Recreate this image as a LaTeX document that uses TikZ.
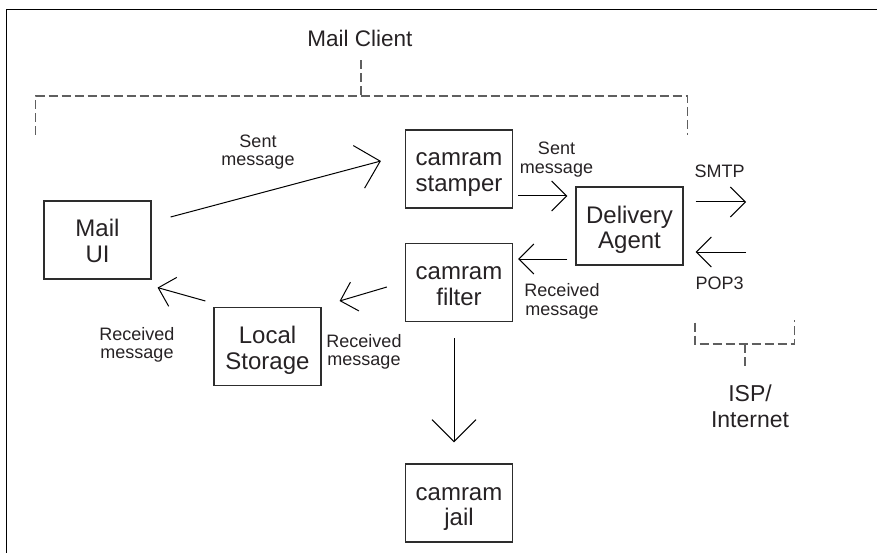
\documentclass[tikz,border=0pt]{standalone}
\usepackage{fontspec}
\setmainfont{Liberation Sans}
\usetikzlibrary{arrows.meta}
\definecolor{ink}{RGB}{38,34,36}
\definecolor{boxline}{RGB}{45,45,45}
\definecolor{dashgray}{RGB}{95,95,95}
\newcommand{\twolines}[2]{\makebox[0pt]{\raisebox{3pt}[0pt][0pt]{#1}}\makebox[0pt]{\raisebox{-22.5pt}[0pt][0pt]{#2}}}
\begin{document}
\begin{tikzpicture}[x=1pt,y=-1pt,
  comp/.style={draw=boxline, line width=1.2pt, minimum width=107pt, minimum height=78pt, inner sep=0pt, font=\fontsize{24}{25.5}\selectfont, text=ink},
  lbl/.style={align=center, inner sep=0pt, font=\fontsize{18}{18.5}\selectfont, text=ink},
  big/.style={align=center, inner sep=0pt, font=\fontsize{23}{26}\selectfont, text=ink},
  flow/.style={draw=black, line width=1pt, -{Straight Barb[length=15pt,width=30pt]}},
  bigflow/.style={draw=black, line width=1pt, -{Straight Barb[length=22pt,width=44pt]}},
  bracket/.style={draw=dashgray, line width=1.2pt, dash pattern=on 9pt off 4pt},
]
\useasboundingbox (0,0) rectangle (877,553);
\draw[line width=1.8pt] (6.5,553) -- (6.5,9.5) -- (877,9.5);

% components
\node[comp] (ui) at (97.5,240) {\twolines{Mail}{UI}};
\node[comp] (stamp) at (459,169) {\twolines{camram}{stamper}};
\node[comp] (filt) at (459,282.5) {\twolines{camram}{filter}};
\node[comp] (da) at (629.5,226) {\twolines{Delivery}{Agent}};
\node[comp] (store) at (267.5,346.5) {\twolines{Local}{Storage}};
\node[comp] (jail) at (459,503) {\twolines{camram}{jail}};

% group labels
\node[big, font=\fontsize{22.5}{26}\selectfont] (mc) at (360,38.3) {Mail Client};
\node[big] (isp) at (750,406) {ISP/\\Internet};

% connector labels
\node[lbl] (l1) at (258,152) {Sent\\message};
\node[lbl] (l2) at (556.5,159.7) {Sent\\message};
\node[lbl] (l3) at (562,301.5) {Received\\message};
\node[lbl] (l4) at (364,352) {Received\\message};
\node[lbl] (l5) at (137,345) {Received\\message};
\node[lbl] (smtp) at (719.5,171) {SMTP};
\node[lbl] (pop) at (719.7,283.7) {POP3};

% connectors
\draw[bigflow] ([shift={(19,-23)}]ui.east) -- ([shift={(-24,-8)}]stamp.west);
\draw[flow] ([shift={(5,27)}]stamp.east) -- ([shift={(-8,-30)}]da.west);
\draw[flow] ([shift={(-8,33)}]da.west) -- ([shift={(5,-23.5)}]filt.east);
\draw[flow] ([shift={(-18,4.5)}]filt.west) -- ([shift={(18,-45.5)}]store.east);
\draw[flow] ([shift={(-8,-45.5)}]store.west) -- ([shift={(6,8)}]ui.south east);
\draw[bigflow] ([shift={(-5,16)}]filt.south) -- ([shift={(-5,-21)}]jail.north);
\coordinate (smtpend) at (746,202);
\coordinate (popstart) at (746,252);
\draw[flow] ([shift={(12,-24)}]da.east) -- (smtpend);
\draw[flow] (popstart) -- ([shift={(12,26)}]da.east);

% brackets
\draw[bracket] (35.5,135) -- (35.5,96) -- (687.5,96) -- (687.5,135);
\draw[bracket] ([shift={(1,13.3)}]mc.south) -- (361,96);
\draw[bracket] (695,322.7) -- (695,344) -- (794.7,344) -- (794.7,320);
\draw[bracket] (745,344) -- ([shift={(-5,-18)}]isp.north);
\end{tikzpicture}
\end{document}
